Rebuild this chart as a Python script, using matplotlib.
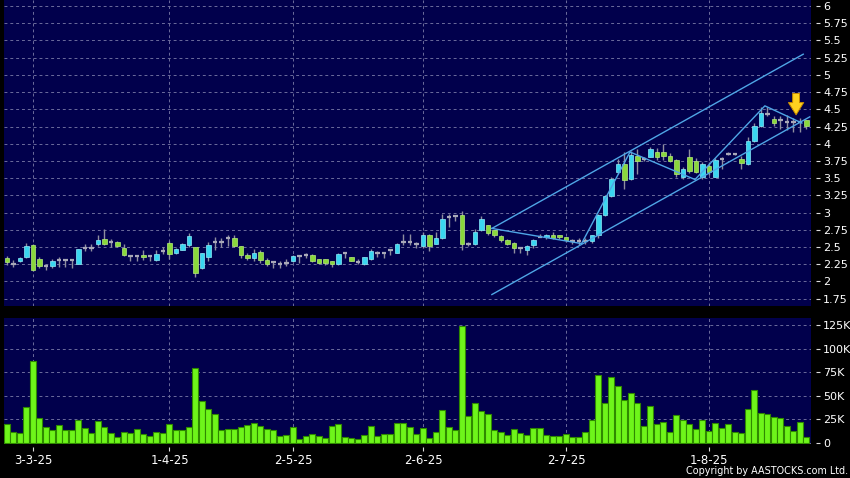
import numpy as np
import matplotlib
matplotlib.use('Agg')
import matplotlib.pyplot as plt

# daily candles, one per trading day (index 0 = first bar on the chart)
opens = [2.34, 2.26, 2.29, 2.35, 2.53, 2.32, 2.23, 2.22, 2.31, 2.31,
         2.31, 2.26, 2.49, 2.48, 2.54, 2.62, 2.58, 2.58, 2.49, 2.37,
         2.37, 2.38, 2.37, 2.31, 2.44, 2.56, 2.41, 2.46, 2.53, 2.50,
         2.19, 2.35, 2.58, 2.58, 2.63, 2.63, 2.51, 2.38, 2.34, 2.43,
         2.31, 2.28, 2.26, 2.27, 2.30, 2.37, 2.39, 2.39, 2.32, 2.32,
         2.30, 2.25, 2.41, 2.35, 2.28, 2.25, 2.32, 2.42, 2.42, 2.45,
         2.42, 2.58, 2.58, 2.55, 2.51, 2.68, 2.55, 2.63, 2.93, 2.95,
         2.96, 2.54, 2.54, 2.74, 2.82, 2.74, 2.66, 2.60, 2.56, 2.48,
         2.46, 2.53, 2.65, 2.65, 2.68, 2.67, 2.64, 2.59, 2.59, 2.59,
         2.59, 2.67, 2.96, 3.24, 3.59, 3.70, 3.49, 3.82, 3.78, 3.81,
         3.88, 3.88, 3.82, 3.76, 3.51, 3.81, 3.75, 3.51, 3.67, 3.52,
         3.78, 3.85, 3.85, 3.78, 3.71, 4.04, 4.26, 4.43, 4.36, 4.34,
         4.31, 4.31, 4.32, 4.35]
highs = [2.37, 2.31, 2.35, 2.56, 2.55, 2.35, 2.25, 2.32, 2.36, 2.31,
         2.31, 2.47, 2.54, 2.54, 2.68, 2.76, 2.62, 2.59, 2.54, 2.38,
         2.37, 2.45, 2.38, 2.45, 2.50, 2.59, 2.48, 2.56, 2.71, 2.50,
         2.42, 2.57, 2.65, 2.63, 2.68, 2.68, 2.51, 2.42, 2.47, 2.46,
         2.34, 2.29, 2.29, 2.32, 2.38, 2.37, 2.42, 2.40, 2.33, 2.32,
         2.30, 2.42, 2.42, 2.36, 2.32, 2.36, 2.47, 2.44, 2.43, 2.47,
         2.56, 2.69, 2.69, 2.58, 2.72, 2.69, 2.72, 2.98, 2.98, 2.97,
         3.02, 2.57, 2.76, 2.95, 2.82, 2.75, 2.67, 2.62, 2.57, 2.49,
         2.53, 2.62, 2.69, 2.69, 2.72, 2.68, 2.65, 2.62, 2.63, 2.63,
         2.68, 2.98, 3.26, 3.52, 3.78, 3.88, 3.90, 3.92, 3.80, 3.95,
         3.94, 4.00, 3.86, 3.78, 3.66, 3.93, 3.79, 3.74, 3.74, 3.79,
         3.81, 3.88, 3.86, 3.82, 4.10, 4.30, 4.54, 4.54, 4.40, 4.40,
         4.42, 4.37, 4.37, 4.35]
lows = [2.24, 2.21, 2.28, 2.34, 2.15, 2.19, 2.17, 2.20, 2.21, 2.21,
        2.19, 2.25, 2.44, 2.44, 2.52, 2.53, 2.50, 2.50, 2.37, 2.29,
        2.29, 2.31, 2.30, 2.29, 2.40, 2.32, 2.40, 2.45, 2.50, 2.07,
        2.18, 2.29, 2.45, 2.50, 2.52, 2.50, 2.34, 2.31, 2.30, 2.27,
        2.23, 2.19, 2.19, 2.22, 2.28, 2.27, 2.34, 2.28, 2.26, 2.24,
        2.21, 2.24, 2.34, 2.30, 2.25, 2.24, 2.31, 2.36, 2.34, 2.38,
        2.41, 2.53, 2.53, 2.49, 2.49, 2.44, 2.54, 2.62, 2.79, 2.88,
        2.46, 2.52, 2.53, 2.73, 2.67, 2.65, 2.58, 2.53, 2.41, 2.42,
        2.39, 2.49, 2.64, 2.62, 2.61, 2.62, 2.58, 2.55, 2.53, 2.54,
        2.56, 2.63, 2.95, 3.22, 3.56, 3.34, 3.47, 3.56, 3.75, 3.81,
        3.77, 3.76, 3.74, 3.52, 3.49, 3.57, 3.57, 3.49, 3.54, 3.51,
        3.63, 3.83, 3.83, 3.63, 3.69, 4.03, 4.25, 4.40, 4.26, 4.21,
        4.20, 4.17, 4.17, 4.22]
closes = [2.28, 2.26, 2.34, 2.52, 2.16, 2.22, 2.23, 2.30, 2.31, 2.31,
          2.31, 2.47, 2.49, 2.48, 2.60, 2.54, 2.58, 2.51, 2.38, 2.37,
          2.37, 2.36, 2.37, 2.40, 2.44, 2.40, 2.47, 2.54, 2.66, 2.12,
          2.41, 2.53, 2.58, 2.58, 2.63, 2.51, 2.38, 2.34, 2.41, 2.31,
          2.25, 2.28, 2.26, 2.27, 2.37, 2.37, 2.39, 2.29, 2.27, 2.27,
          2.26, 2.40, 2.41, 2.30, 2.28, 2.35, 2.44, 2.42, 2.42, 2.45,
          2.54, 2.58, 2.58, 2.55, 2.68, 2.51, 2.63, 2.91, 2.93, 2.95,
          2.54, 2.54, 2.72, 2.90, 2.71, 2.67, 2.60, 2.55, 2.49, 2.48,
          2.51, 2.60, 2.65, 2.67, 2.63, 2.64, 2.60, 2.59, 2.59, 2.59,
          2.67, 2.96, 3.24, 3.49, 3.70, 3.47, 3.83, 3.75, 3.78, 3.92,
          3.80, 3.82, 3.75, 3.56, 3.64, 3.61, 3.59, 3.70, 3.59, 3.76,
          3.78, 3.85, 3.85, 3.72, 4.04, 4.26, 4.44, 4.43, 4.30, 4.34,
          4.31, 4.31, 4.32, 4.26]
# volume in thousands of shares
volumes = [19.4, 11.6, 10.6, 38.4, 86.6, 25.7, 16.2, 13.7, 19.0, 13.4,
           13.0, 23.9, 15.8, 10.2, 23.2, 16.2, 9.9, 5.6, 11.6, 9.9,
           14.1, 9.5, 7.4, 11.6, 9.9, 19.7, 13.7, 13.7, 16.2, 79.2,
           44.7, 35.6, 30.3, 13.0, 14.1, 14.8, 16.5, 18.9, 20.4, 17.6,
           14.4, 13.4, 6.7, 8.1, 16.5, 3.9, 7.0, 9.2, 6.7, 4.9,
           17.6, 19.7, 6.0, 4.9, 4.2, 8.4, 18.0, 7.0, 9.2, 8.8,
           21.1, 20.4, 16.9, 9.2, 15.1, 5.3, 11.3, 34.8, 16.5, 13.0,
           124.6, 28.2, 42.6, 33.4, 31.0, 13.0, 10.9, 7.7, 14.8, 9.9,
           7.7, 15.8, 15.8, 8.4, 7.4, 6.7, 9.5, 6.3, 6.3, 10.9,
           24.6, 72.2, 41.9, 69.7, 60.5, 45.1, 53.2, 42.6, 17.6, 39.4,
           19.4, 21.8, 10.9, 28.9, 23.9, 20.1, 14.8, 23.9, 12.3, 21.1,
           15.8, 20.1, 11.3, 10.6, 36.3, 55.6, 31.7, 30.6, 27.1, 26.0,
           17.6, 12.3, 21.5, 6.3]

date_labels = ['3-3-25', '1-4-25', '2-5-25', '2-6-25', '2-7-25', '1-8-25']
date_index = [4, 25, 44, 64, 86, 108]

price_ticks = np.arange(1.75, 6.01, 0.25)
vol_ticks = [0, 25, 50, 75, 100, 125]

# drawn trend lines (bar index, price)
upper_x, upper_y = [74.6, 122.5], [2.77, 5.30]
lower_x, lower_y = [74.6, 123.5], [1.81, 4.39]
zigzag_x = [74.6, 88.4, 95.85, 105.85, 116.6, 122.3]
zigzag_y = [2.77, 2.55, 3.88, 3.48, 4.55, 4.30]
arrow_x, arrow_top, arrow_tip = 121.4, 4.73, 4.42

NAVY = '#01004C'
GRID = '#6C6C9C'
CYAN = '#3AD6F0'
GREEN = '#8AD83C'
DOJI = '#A8A8B8'
WICK = '#8E8E9E'

o = np.array(opens); c = np.array(closes)
h = np.array(highs); l = np.array(lows)
v = np.array(volumes)
x = np.arange(len(o))

fig = plt.figure(figsize=(8.5, 4.78), dpi=100, facecolor='black')
ax_p = fig.add_axes([4/850, 1 - 305.7/478, 806.7/850, 305.7/478])
ax_v = fig.add_axes([4/850, 1 - 444/478, 806.7/850, (444 - 318.3)/478])

for ax in (ax_p, ax_v):
    ax.set_facecolor(NAVY)
    ax.set_xlim(-0.46, 123.65)
    for s in ax.spines.values():
        s.set_visible(False)
    ax.yaxis.tick_right()
    ax.spines['right'].set_position(('outward', 4))
    ax.tick_params(axis='y', colors='#DDDDDD', labelcolor='white',
                   length=3, width=0.8, pad=2, labelsize=8)
    ax.set_xticks(date_index)
    ax.grid(True, color=GRID, linestyle=(0, (3, 3)), linewidth=0.7)
    ax.set_axisbelow(True)

# price panel
ax_p.set_ylim(1.648, 6.087)
ax_p.set_yticks(price_ticks)
ax_p.set_yticklabels([f'{t:g}' for t in price_ticks])
ax_p.tick_params(axis='x', length=0, labelbottom=False)

ax_p.vlines(x, l, h, color=WICK, linewidth=1.0, zorder=2)
up = c > o
down = c < o
flat = c == o
ax_p.bar(x[up], (c - o)[up], bottom=o[up], width=0.75, color=CYAN,
         edgecolor='#8CEBFA', linewidth=0.5, zorder=3)
ax_p.bar(x[down], (o - c)[down], bottom=c[down], width=0.75, color=GREEN,
         edgecolor='#B5EC7A', linewidth=0.5, zorder=3)
ax_p.hlines(c[flat], x[flat] - 0.38, x[flat] + 0.38, color=DOJI,
            linewidth=1.6, zorder=3)

ax_p.plot(upper_x, upper_y, color='#4FA6E6', linewidth=1.0, zorder=4)
ax_p.plot(lower_x, lower_y, color='#4FA6E6', linewidth=1.0, zorder=4)
ax_p.plot(zigzag_x, zigzag_y, color='#4FA6E6', linewidth=1.0, zorder=4)

ax_p.annotate('', xy=(arrow_x, arrow_tip), xytext=(arrow_x, arrow_top),
              arrowprops=dict(arrowstyle='simple,head_length=0.8,head_width=1.0,tail_width=0.45',
                              mutation_scale=11, fc='#FFD21F', ec='#C88A00',
                              lw=0.7, shrinkA=0, shrinkB=0), zorder=6)

# volume panel
ax_v.bar(x, v, width=0.92, color='#6EF51A', edgecolor='#2F8A00',
         linewidth=0.8, zorder=3)
ax_v.set_ylim(-1.5, 132.5)
ax_v.set_yticks(vol_ticks)
ax_v.set_yticklabels(['0' if t == 0 else f'{t}K' for t in vol_ticks])
ax_v.spines['bottom'].set_position(('outward', 2))
ax_v.set_xticklabels(date_labels)
ax_v.tick_params(axis='x', colors='#DDDDDD', labelcolor='white',
                 length=3, width=0.8, pad=2, labelsize=8.5)

fig.text(0.998, 0.004, 'Copyright by AASTOCKS.com Ltd.', color='white',
         fontsize=6.9, ha='right', va='bottom')

fig.savefig('out.png', dpi=100, facecolor='black')
plt.close(fig)
